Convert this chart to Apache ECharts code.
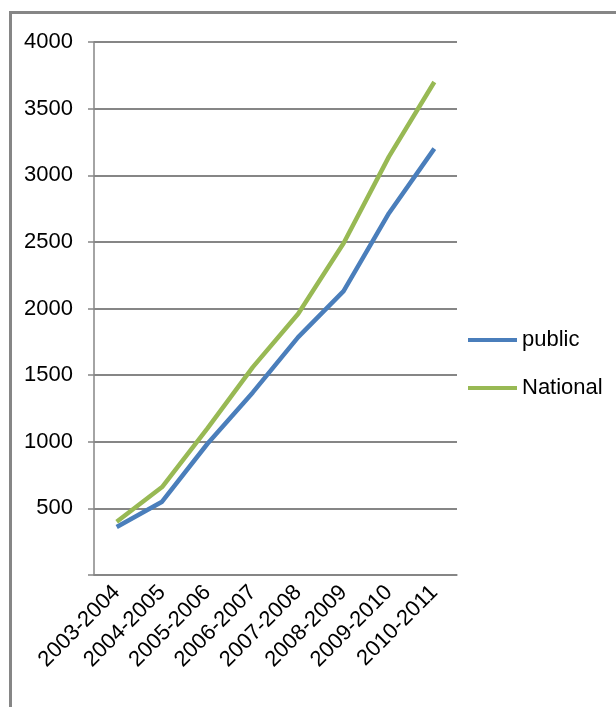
<!DOCTYPE html>
<html>
<head>
<meta charset="utf-8">
<script src="https://cdn.jsdelivr.net/npm/echarts@6/dist/echarts.min.js"></script>
<style>
  html, body { margin: 0; padding: 0; background: #fff; }
  #chart { width: 616px; height: 707px; }
</style>
</head>
<body>
<div id="chart"></div>
<script>
const years = ['2003-2004', '2004-2005', '2005-2006', '2006-2007',
               '2007-2008', '2008-2009', '2009-2010', '2010-2011'];
const publicVals = [360, 550, 985, 1370, 1785, 2130, 2715, 3200];
const nationalVals = [400, 660, 1100, 1560, 1960, 2490, 3140, 3700];
const yTicks = [0, 500, 1000, 1500, 2000, 2500, 3000, 3500, 4000];

const grey = '#868686';
const font = 'Liberation Sans';

const chart = echarts.init(document.getElementById('chart'));
chart.setOption({
    animation: false,
    textStyle: { fontFamily: font },
    graphic: [{
        type: 'polyline',
        shape: { points: [[10.5, 707], [10.5, 12.5], [616, 12.5]] },
        style: { stroke: grey, lineWidth: 3, fill: null }
    }],
    grid: { left: 94, right: 159, top: 42, bottom: 132 },
    legend: {
        orient: 'vertical',
        left: 463,
        top: 324,
        icon: 'rect',
        itemWidth: 49,
        itemHeight: 4,
        itemGap: 26,
        textStyle: { fontSize: 22, color: '#000', fontFamily: font },
        data: ['public', 'National']
    },
    xAxis: {
        type: 'category',
        data: years,
        axisLine: { lineStyle: { color: grey, width: 1.5 } },
        axisTick: { length: 8, lineStyle: { color: grey, width: 1.5 } },
        axisLabel: {
            rotate: 45, margin: 14, interval: 0,
            fontSize: 22, color: '#000', fontFamily: font
        }
    },
    yAxis: {
        type: 'value',
        min: yTicks[0],
        max: yTicks[yTicks.length - 1],
        interval: 500,
        axisLine: { show: true, lineStyle: { color: grey, width: 1.5 } },
        axisTick: { show: true, length: 6, lineStyle: { color: grey, width: 1.5 } },
        splitLine: { lineStyle: { color: grey, width: 2 } },
        axisLabel: {
            margin: 21, fontSize: 22, color: '#000', fontFamily: font,
            formatter: v => (v === 0 ? '' : String(v))
        }
    },
    series: [
        {
            name: 'public',
            type: 'line',
            data: publicVals,
            symbol: 'none',
            color: '#4A7EBB',
            lineStyle: { width: 4.5 }
        },
        {
            name: 'National',
            type: 'line',
            data: nationalVals,
            symbol: 'none',
            color: '#98B954',
            lineStyle: { width: 4.5 }
        }
    ]
});
</script>
</body>
</html>
